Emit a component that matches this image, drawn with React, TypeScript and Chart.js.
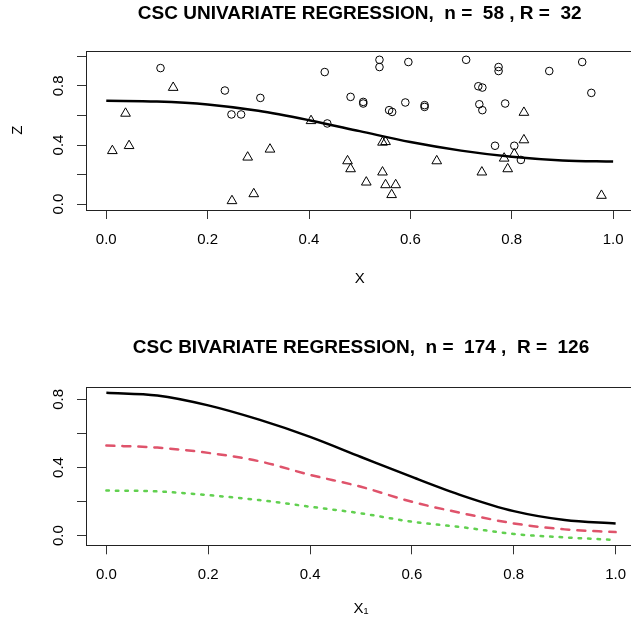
import React, { useEffect, useRef } from 'react';
import { Chart, registerables } from 'chart.js';

Chart.register(...registerables);

// ---- data ----
const curveX = [0, 0.1, 0.2, 0.3, 0.4, 0.5, 0.6, 0.7, 0.8, 0.9, 1.0];
const uniFit = [0.700, 0.695, 0.675, 0.632, 0.568, 0.494, 0.420, 0.362, 0.320, 0.295, 0.288];

const circleX = [0.107, 0.234, 0.247, 0.266, 0.304, 0.431, 0.436, 0.482, 0.507, 0.507, 0.539, 0.539, 0.558, 0.564, 0.590, 0.596,
  0.628, 0.628, 0.710, 0.734, 0.742, 0.736, 0.742, 0.774, 0.774, 0.787, 0.767, 0.805, 0.818, 0.874, 0.939, 0.957];
const circleZ = [0.921, 0.769, 0.607, 0.607, 0.719, 0.894, 0.546, 0.726, 0.692, 0.681, 0.977, 0.928, 0.636, 0.624, 0.688, 0.962,
  0.670, 0.658, 0.977, 0.798, 0.789, 0.676, 0.636, 0.928, 0.901, 0.681, 0.395, 0.395, 0.299, 0.901, 0.962, 0.753];

const triangleX = [0.012, 0.038, 0.045, 0.132, 0.248, 0.279, 0.291, 0.323, 0.404, 0.476, 0.482, 0.513, 0.545, 0.551, 0.545, 0.551,
  0.571, 0.563, 0.652, 0.741, 0.785, 0.805, 0.792, 0.824, 0.824, 0.977];
const triangleZ = [0.361, 0.614, 0.395, 0.789, 0.022, 0.317, 0.069, 0.371, 0.564, 0.292, 0.238, 0.148, 0.418, 0.422, 0.216, 0.130,
  0.130, 0.063, 0.292, 0.216, 0.310, 0.339, 0.238, 0.434, 0.620, 0.058];

const biBlack = [0.839, 0.823, 0.765, 0.681, 0.580, 0.462, 0.345, 0.234, 0.144, 0.092, 0.072];
const biRed = [0.529, 0.517, 0.486, 0.437, 0.357, 0.287, 0.199, 0.131, 0.072, 0.037, 0.021];
const biGreen = [0.265, 0.260, 0.238, 0.209, 0.170, 0.131, 0.082, 0.049, 0.010, -0.010, -0.025];

const xTicks = [0, 0.2, 0.4, 0.6, 0.8, 1.0];
const zTicksTop = [0, 0.2, 0.4, 0.6, 0.8, 1.0];
const zTicksBottom = [0, 0.2, 0.4, 0.6, 0.8];
const labelledZ = [0, 0.4, 0.8];

const titleTop = 'CSC UNIVARIATE REGRESSION,  n =  58 , R =  32';
const titleBottom = 'CSC BIVARIATE REGRESSION,  n =  174 ,  R =  126';

const FONT = "'Liberation Sans', Arial, Helvetica, sans-serif";
const RED = '#DF536B';
const GREEN = '#61D04F';

const pts = (xs: number[], ys: number[]) => xs.map((x, i) => ({ x, y: ys[i] }));

const boxPlugin = {
  id: 'rbox',
  afterDraw(chart: any) {
    const { ctx, chartArea: a } = chart;
    ctx.save();
    ctx.strokeStyle = '#222';
    ctx.lineWidth = 1;
    const l = Math.round(a.left) + 0.5;
    const t = Math.round(a.top) + 0.5;
    const r = Math.round(a.right) + 0.5;
    const b = Math.round(a.bottom) + 0.5;
    ctx.strokeRect(l, t, r - l, b - t);
    ctx.restore();
  },
};

function xScale(titleText: string, padBottom: number, height: number) {
  return {
    type: 'linear',
    min: -0.04,
    max: 1.04,
    afterBuildTicks: (s: any) => { s.ticks = xTicks.map((v) => ({ value: v })); },
    afterFit: (s: any) => { s.height = height; },
    grid: { display: true, drawOnChartArea: false, drawTicks: true, tickLength: 9, color: '#333', lineWidth: 1 },
    border: { display: false },
    ticks: {
      color: '#000', font: { size: 15, family: FONT }, padding: 12, autoSkip: false, maxRotation: 0, minRotation: 0,
      callback: (v: any) => Number(v).toFixed(1),
    },
    title: { display: true, text: titleText, color: '#000', font: { size: 15, family: FONT }, padding: { top: 0, bottom: padBottom } },
  };
}

function yScale(min: number, max: number, ticks: number[], titleText: string | null) {
  return {
    type: 'linear',
    min,
    max,
    afterBuildTicks: (s: any) => { s.ticks = ticks.map((v) => ({ value: v })); },
    afterFit: (s: any) => { s.width = 86; },
    grid: { display: true, drawOnChartArea: false, drawTicks: true, tickLength: 9, color: '#333', lineWidth: 1 },
    border: { display: false },
    ticks: {
      color: '#000', font: { size: 15, family: FONT }, padding: 8, autoSkip: false,
      minRotation: 90, maxRotation: 90, crossAlign: 'center',
      callback: (v: any) => (labelledZ.some((z) => Math.abs(z - Number(v)) < 1e-9) ? Number(v).toFixed(1) : ''),
    },
    title: titleText
      ? { display: true, text: titleText, color: '#000', font: { size: 15, family: FONT }, padding: { top: 9.3, bottom: 0 } }
      : { display: false },
  };
}

function baseOptions(title: string, padTop: number, padBottom: number, x: any, y: any) {
  return {
    animation: false,
    responsive: false,
    devicePixelRatio: 1,
    events: [],
    layout: { padding: { left: 0, right: 4, top: 0, bottom: 0 } },
    plugins: {
      legend: { display: false },
      tooltip: { enabled: false },
      title: {
        display: true, text: title, fullSize: false, color: '#000',
        font: { size: 19, weight: 'bold', family: FONT }, padding: { top: padTop, bottom: padBottom },
      },
    },
    scales: { x, y },
  };
}

export default function App() {
  const topRef = useRef<HTMLCanvasElement>(null);
  const botRef = useRef<HTMLCanvasElement>(null);

  useEffect(() => {
    Chart.defaults.font.family = FONT;
    const top = new Chart(topRef.current as HTMLCanvasElement, {
      type: 'scatter',
      data: {
        datasets: [
          {
            data: pts(circleX, circleZ), pointStyle: 'circle', pointRadius: 3.8, borderColor: '#000',
            backgroundColor: 'rgba(0,0,0,0)', borderWidth: 1, showLine: false,
          },
          {
            data: pts(triangleX, triangleZ), pointStyle: 'triangle', pointRadius: 5.6, borderColor: '#000',
            backgroundColor: 'rgba(0,0,0,0)', borderWidth: 1, showLine: false,
          },
          {
            data: pts(curveX, uniFit), showLine: true, pointRadius: 0, borderColor: '#000', borderWidth: 2.5,
            cubicInterpolationMode: 'monotone', fill: false,
          },
        ],
      },
      options: baseOptions(titleTop, 1.9, 25.8, xScale('X', 24, 102), yScale(-0.04, 1.04, zTicksTop, 'Z')) as any,
      plugins: [boxPlugin],
    } as any);

    const bot = new Chart(botRef.current as HTMLCanvasElement, {
      type: 'scatter',
      data: {
        datasets: [
          {
            data: pts(curveX, biBlack), showLine: true, pointRadius: 0, borderColor: '#000', borderWidth: 2.5,
            cubicInterpolationMode: 'monotone', fill: false,
          },
          {
            data: pts(curveX, biRed), showLine: true, pointRadius: 0, borderColor: RED, borderWidth: 2.5,
            borderDash: [8, 8], borderCapStyle: 'round', cubicInterpolationMode: 'monotone', fill: false,
          },
          {
            data: pts(curveX, biGreen), showLine: true, pointRadius: 0, borderColor: GREEN, borderWidth: 2.5,
            borderDash: [2.5, 7], borderCapStyle: 'round', cubicInterpolationMode: 'monotone', fill: false,
          },
        ],
      },
      options: baseOptions(titleBottom, 23.9, 28.0, xScale('X\u2081', 6, 78.7), yScale(-0.0565, 0.8745, zTicksBottom, null)) as any,
      plugins: [boxPlugin],
    } as any);

    return () => {
      top.destroy();
      bot.destroy();
    };
  }, []);

  return (
    <div style={{ position: 'fixed', left: 0, top: 0, width: 631, height: 624, overflow: 'hidden', background: '#fff' }}>
      <canvas ref={topRef} width={640} height={312} style={{ display: 'block', position: 'absolute', left: 0, top: 0 }} />
      <canvas ref={botRef} width={640} height={312} style={{ display: 'block', position: 'absolute', left: 0, top: 312 }} />
    </div>
  );
}
